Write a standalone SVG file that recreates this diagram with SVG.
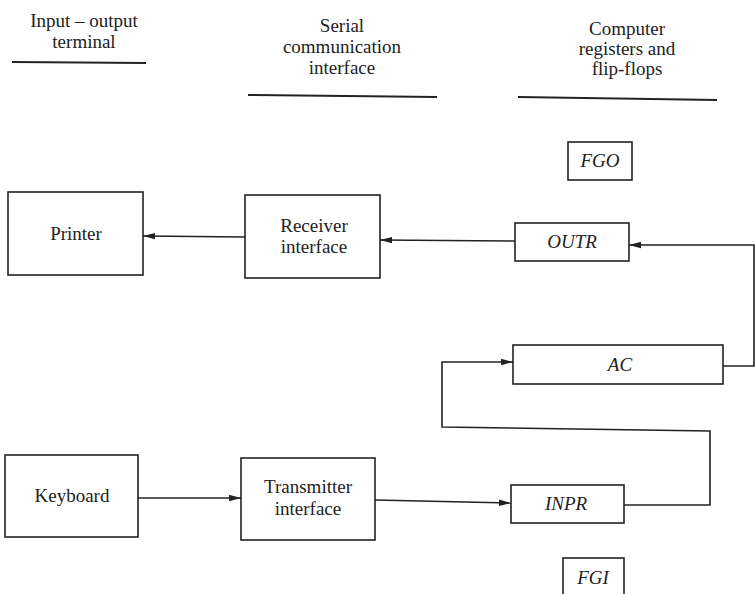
<svg xmlns="http://www.w3.org/2000/svg" width="755" height="594" viewBox="0 0 755 594">
<style>
  .box { fill: #fff; stroke: #222; stroke-width: 1.6; }
  .lbl { font-family: "Liberation Serif", "Times New Roman", serif; font-size: 19px; fill: #222; text-anchor: middle; }
  .reg { font-style: italic; }
  .hdr { font-family: "Liberation Serif", "Times New Roman", serif; font-size: 19px; fill: #222; text-anchor: middle; }
  .rule { stroke: #222; stroke-width: 2; fill: none; }
  .conn { stroke: #222; stroke-width: 1.6; fill: none; }
</style>
<defs>
  <marker id="arr" viewBox="0 0 12 8" refX="12" refY="4" markerWidth="12" markerHeight="8" markerUnits="userSpaceOnUse" orient="auto">
    <path d="M0,0.8 L12,4 L0,7.2 Z" fill="#222"/>
  </marker>
</defs>
<rect width="755" height="594" fill="#fff"/>

<g id="headers">
  <text class="hdr" x="84" y="27">Input – output</text>
  <text class="hdr" x="84" y="48">terminal</text>
  <line class="rule" x1="12" y1="62" x2="146" y2="63"/>
  <text class="hdr" x="342" y="32">Serial</text>
  <text class="hdr" x="342" y="53">communication</text>
  <text class="hdr" x="342" y="74">interface</text>
  <line class="rule" x1="248" y1="95" x2="437" y2="97"/>
  <text class="hdr" x="627" y="35">Computer</text>
  <text class="hdr" x="627" y="55">registers and</text>
  <text class="hdr" x="627" y="75">flip-flops</text>
  <line class="rule" x1="518" y1="97" x2="717" y2="100"/>
</g>

<g id="printer">
  <rect class="box" x="8" y="192" width="135" height="83"/>
  <text class="lbl" x="76" y="240">Printer</text>
</g>
<g id="receiver">
  <rect class="box" x="245" y="195" width="135" height="83"/>
  <text class="lbl" x="314" y="232">Receiver</text>
  <text class="lbl" x="314" y="253">interface</text>
</g>
<g id="keyboard">
  <rect class="box" x="5" y="455" width="133" height="82"/>
  <text class="lbl" x="72" y="502">Keyboard</text>
</g>
<g id="transmitter">
  <rect class="box" x="241" y="458" width="134" height="82"/>
  <text class="lbl" x="308" y="493">Transmitter</text>
  <text class="lbl" x="308" y="515">interface</text>
</g>
<g id="fgo">
  <rect class="box" x="568" y="142" width="64" height="38"/>
  <text class="lbl reg" x="600" y="167">FGO</text>
</g>
<g id="outr">
  <rect class="box" x="515" y="223" width="114" height="38"/>
  <text class="lbl reg" x="572" y="248">OUTR</text>
</g>
<g id="ac">
  <rect class="box" x="513" y="345" width="210" height="39"/>
  <text class="lbl reg" x="620" y="371">AC</text>
</g>
<g id="inpr">
  <rect class="box" x="511" y="485" width="113" height="38"/>
  <text class="lbl reg" x="566" y="510">INPR</text>
</g>
<g id="fgi">
  <rect class="box" x="563" y="558" width="61" height="44"/>
  <text class="lbl reg" x="593" y="584">FGI</text>
</g>

<g id="connectors">
  <path class="conn" d="M723,366 H754 V245 H629" marker-end="url(#arr)"/>
  <path class="conn" d="M515,241 L380,240" marker-end="url(#arr)"/>
  <path class="conn" d="M245,237 L143,236" marker-end="url(#arr)"/>
  <path class="conn" d="M138,498 L241,498" marker-end="url(#arr)"/>
  <path class="conn" d="M375,500 L511,503" marker-end="url(#arr)"/>
  <path class="conn" d="M624,505 H710 V431 L442,427 V362 H513" marker-end="url(#arr)"/>
</g>
</svg>
